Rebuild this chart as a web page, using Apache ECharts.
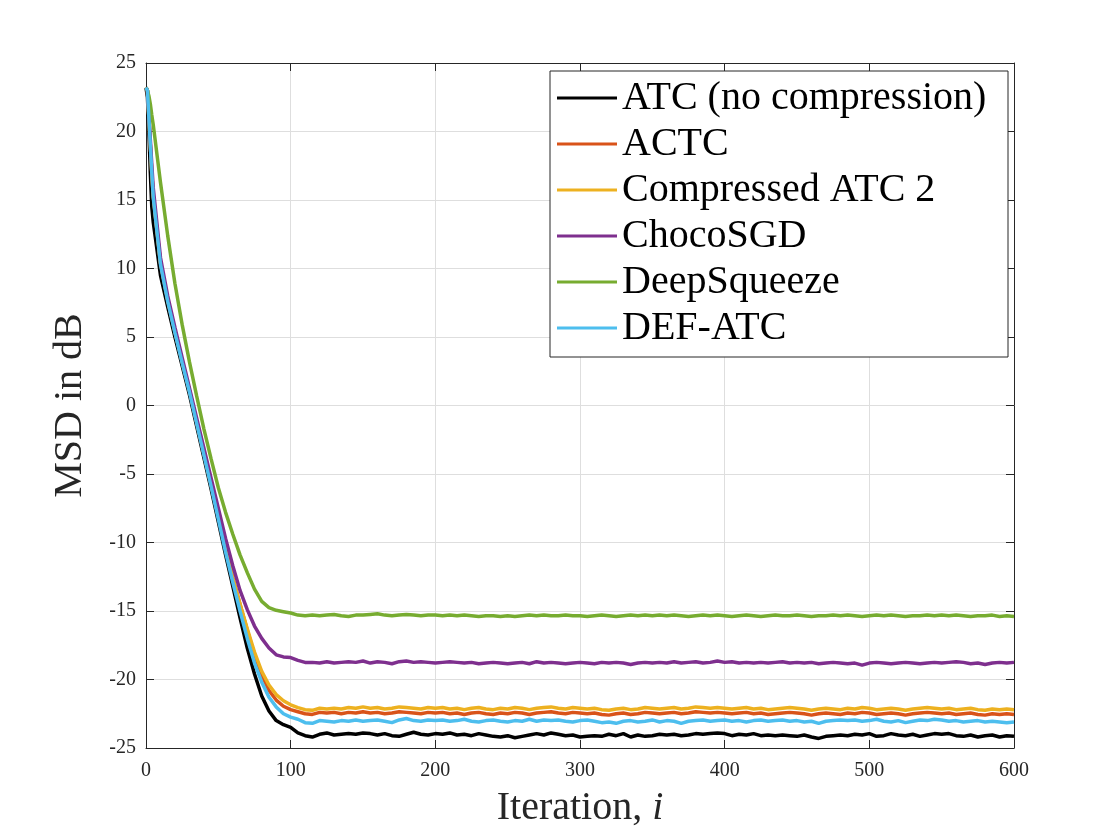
<!DOCTYPE html>
<html>
<head>
<meta charset="utf-8">
<script src="https://cdn.jsdelivr.net/npm/echarts@6/dist/echarts.min.js"></script>
<style>
html,body{margin:0;padding:0;background:#fff;}
#chart{width:1120px;height:840px;}
</style>
</head>
<body>
<div id="chart"></div>
<script>
// ---------- DATA ----------
const seriesNames = ["ATC (no compression)", "ACTC", "Compressed ATC 2", "ChocoSGD", "DeepSqueeze", "DEF-ATC"];
const xTicks = [0, 100, 200, 300, 400, 500, 600];
const yTicks = [-25, -20, -15, -10, -5, 0, 5, 10, 15, 20, 25];

const iters = [
  0, 1, 2, 3, 4, 5, 10, 15, 20, 25,
  30, 35, 40, 45, 50, 55, 60, 65, 70, 75,
  80, 85, 90, 95, 100, 105, 110, 115, 120, 125,
  130, 135, 140, 145, 150, 155, 160, 165, 170, 175,
  180, 185, 190, 195, 200, 205, 210, 215, 220, 225,
  230, 235, 240, 245, 250, 255, 260, 265, 270, 275,
  280, 285, 290, 295, 300, 305, 310, 315, 320, 325,
  330, 335, 340, 345, 350, 355, 360, 365, 370, 375,
  380, 385, 390, 395, 400, 405, 410, 415, 420, 425,
  430, 435, 440, 445, 450, 455, 460, 465, 470, 475,
  480, 485, 490, 495, 500, 505, 510, 515, 520, 525,
  530, 535, 540, 545, 550, 555, 560, 565, 570, 575,
  580, 585, 590, 595, 600
];

const atc = [
  23.2, 22.5, 20.0, 17.0, 14.5, 13.4, 9.5, 7.2, 5.0, 2.9,
  0.8, -1.5, -3.8, -6.1, -8.5, -10.9, -13.2, -15.5, -17.7, -19.6,
  -21.2, -22.3, -23.0, -23.3, -23.5, -23.9, -24.1, -24.2, -24.0, -23.9,
  -24.05, -24.0, -23.95, -24.0, -23.9, -23.95, -24.05, -23.95, -24.1, -24.15,
  -24.0, -23.85, -24.0, -24.05, -23.95, -24.0, -23.9, -24.05, -24.0, -24.1,
  -23.95, -24.05, -24.15, -24.2, -24.1, -24.25, -24.15, -24.05, -23.95, -24.05,
  -23.9, -24.0, -24.1, -24.05, -24.2, -24.15, -24.1, -24.15, -24.0, -24.1,
  -23.95, -24.2, -24.05, -24.15, -24.1, -24.0, -24.05, -24.0, -24.1, -24.05,
  -23.95, -24.0, -23.95, -23.9, -23.95, -24.1, -24.0, -24.05, -23.95, -24.1,
  -24.05, -24.1, -24.05, -24.1, -24.15, -24.05, -24.2, -24.3, -24.15, -24.1,
  -24.05, -24.1, -24.0, -24.05, -23.95, -24.15, -24.1, -23.95, -24.05, -24.1,
  -24.0, -24.15, -24.05, -23.95, -24.0, -23.95, -24.1, -24.15, -24.05, -24.2,
  -24.1, -24.05, -24.2, -24.1, -24.15
];

const actc = [
  23.2, 23.0, 21.0, 19.0, 17.0, 15.3, 10.4, 7.7, 5.4, 3.2,
  1.1, -1.2, -3.5, -5.8, -8.1, -10.4, -12.6, -14.5, -16.4, -18.2,
  -19.7, -20.8, -21.5, -21.95, -22.2, -22.35, -22.5, -22.55, -22.4, -22.45,
  -22.4, -22.5, -22.4, -22.45, -22.35, -22.45, -22.4, -22.5, -22.45, -22.35,
  -22.4, -22.45, -22.5, -22.4, -22.45, -22.4, -22.5, -22.45, -22.55, -22.45,
  -22.4, -22.5, -22.55, -22.45, -22.5, -22.4, -22.45, -22.55, -22.45, -22.4,
  -22.35, -22.45, -22.5, -22.4, -22.45, -22.5, -22.45, -22.55, -22.6, -22.5,
  -22.45, -22.55, -22.5, -22.4, -22.45, -22.5, -22.45, -22.4, -22.5, -22.45,
  -22.35, -22.4, -22.45, -22.4, -22.45, -22.5, -22.45, -22.4, -22.5, -22.45,
  -22.55, -22.5, -22.45, -22.4, -22.45, -22.5, -22.6, -22.5, -22.45, -22.5,
  -22.55, -22.45, -22.5, -22.4, -22.45, -22.55, -22.5, -22.45, -22.5, -22.6,
  -22.5, -22.45, -22.4, -22.45, -22.5, -22.45, -22.55, -22.5, -22.45, -22.55,
  -22.6, -22.5, -22.55, -22.5, -22.55
];

const catc2 = [
  23.2, 23.0, 21.0, 19.0, 17.0, 15.3, 10.4, 7.7, 5.4, 3.2,
  1.1, -1.2, -3.5, -5.8, -8.1, -10.4, -12.6, -14.5, -16.3, -18.0,
  -19.4, -20.4, -21.1, -21.55, -21.85, -22.05, -22.2, -22.25, -22.1, -22.15,
  -22.1, -22.15, -22.05, -22.1, -22.0, -22.1, -22.05, -22.15, -22.1, -22.0,
  -22.05, -22.1, -22.15, -22.05, -22.1, -22.05, -22.15, -22.1, -22.2, -22.1,
  -22.05, -22.15, -22.2, -22.1, -22.15, -22.05, -22.1, -22.2, -22.1, -22.05,
  -22.0, -22.1, -22.15, -22.05, -22.1, -22.15, -22.1, -22.2, -22.25, -22.15,
  -22.1, -22.2, -22.15, -22.05, -22.1, -22.15, -22.1, -22.05, -22.15, -22.1,
  -22.0, -22.05, -22.1, -22.05, -22.1, -22.15, -22.1, -22.05, -22.15, -22.1,
  -22.2, -22.15, -22.1, -22.05, -22.1, -22.15, -22.25, -22.15, -22.1, -22.15,
  -22.2, -22.1, -22.15, -22.05, -22.1, -22.2, -22.15, -22.1, -22.15, -22.25,
  -22.15, -22.1, -22.05, -22.1, -22.15, -22.1, -22.2, -22.15, -22.1, -22.2,
  -22.25, -22.15, -22.2, -22.15, -22.2
];

const choco = [
  23.2, 23.0, 21.2, 19.4, 17.6, 15.9, 10.8, 8.0, 5.7, 3.5,
  1.3, -0.9, -3.1, -5.3, -7.5, -9.7, -11.7, -13.5, -14.9, -16.1,
  -17.0, -17.7, -18.2, -18.35, -18.4, -18.6, -18.75, -18.75, -18.8, -18.7,
  -18.8, -18.75, -18.7, -18.75, -18.65, -18.8, -18.7, -18.75, -18.85, -18.7,
  -18.65, -18.75, -18.7, -18.75, -18.8, -18.75, -18.7, -18.75, -18.8, -18.75,
  -18.85, -18.8, -18.75, -18.8, -18.85, -18.8, -18.75, -18.85, -18.7, -18.8,
  -18.75, -18.8, -18.85, -18.8, -18.75, -18.8, -18.85, -18.75, -18.8, -18.75,
  -18.8, -18.9, -18.8, -18.75, -18.8, -18.75, -18.8, -18.7, -18.8, -18.75,
  -18.7, -18.8, -18.75, -18.65, -18.75, -18.7, -18.8, -18.75, -18.8, -18.75,
  -18.8, -18.75, -18.7, -18.8, -18.75, -18.8, -18.75, -18.85, -18.8, -18.75,
  -18.8, -18.85, -18.8, -18.95, -18.8, -18.75, -18.8, -18.85, -18.8, -18.75,
  -18.8, -18.85, -18.8, -18.75, -18.8, -18.75, -18.7, -18.75, -18.85, -18.8,
  -18.9, -18.8, -18.75, -18.8, -18.75
];

const deepSqueeze = [
  23.2, 23.0, 22.6, 22.0, 21.2, 20.5, 16.3, 12.4, 8.9, 5.9,
  3.2, 0.7, -1.7, -3.9, -6.0, -7.8, -9.4, -10.9, -12.2, -13.4,
  -14.3, -14.75, -14.95, -15.05, -15.15, -15.3, -15.35, -15.3, -15.35, -15.3,
  -15.25, -15.35, -15.4, -15.3, -15.3, -15.25, -15.2, -15.3, -15.35, -15.3,
  -15.25, -15.3, -15.35, -15.3, -15.3, -15.35, -15.3, -15.35, -15.3, -15.35,
  -15.4, -15.35, -15.35, -15.4, -15.35, -15.4, -15.35, -15.3, -15.35, -15.3,
  -15.35, -15.35, -15.3, -15.35, -15.35, -15.4, -15.35, -15.3, -15.35, -15.4,
  -15.35, -15.3, -15.35, -15.3, -15.35, -15.3, -15.35, -15.3, -15.35, -15.4,
  -15.35, -15.3, -15.35, -15.3, -15.35, -15.4, -15.35, -15.3, -15.35, -15.4,
  -15.35, -15.3, -15.35, -15.35, -15.3, -15.35, -15.4, -15.35, -15.35, -15.3,
  -15.35, -15.3, -15.35, -15.4, -15.35, -15.3, -15.35, -15.3, -15.35, -15.4,
  -15.35, -15.35, -15.3, -15.35, -15.3, -15.35, -15.3, -15.35, -15.4, -15.35,
  -15.35, -15.3, -15.4, -15.35, -15.4
];

const defAtc = [
  23.2, 23.0, 21.0, 19.0, 17.0, 15.2, 10.3, 7.6, 5.3, 3.1,
  1.0, -1.3, -3.6, -5.9, -8.3, -10.7, -12.9, -15.0, -17.0, -18.8,
  -20.2, -21.3, -22.0, -22.5, -22.75, -22.9, -23.15, -23.2, -23.0, -23.05,
  -23.1, -23.0, -23.05, -22.95, -23.05, -23.0, -22.95, -23.05, -23.15, -22.95,
  -22.85, -23.0, -23.05, -22.95, -23.0, -22.95, -23.05, -23.0, -22.9, -23.05,
  -23.1, -23.0, -22.95, -23.05, -23.1, -23.0, -23.05, -22.9, -23.05, -22.95,
  -23.0, -22.95, -23.05, -23.1, -23.0, -22.95, -23.05, -23.15, -23.1, -23.2,
  -23.05, -23.0, -23.1, -23.05, -22.95, -23.1, -23.0, -23.05, -23.2, -23.05,
  -23.0, -22.95, -23.05, -23.0, -22.95, -23.05, -23.0, -23.1, -23.0, -22.95,
  -23.05, -23.0, -22.95, -23.05, -23.0, -23.1, -23.05, -23.2, -23.05, -23.0,
  -22.95, -23.0, -22.95, -23.05, -23.0, -22.9, -23.05, -23.1, -23.0, -23.15,
  -23.05, -22.95, -23.0, -22.9, -22.95, -23.05, -23.0, -23.1, -23.05, -23.0,
  -23.1, -23.05, -23.1, -23.15, -23.1
];

const seriesValues = [atc, actc, catc2, choco, deepSqueeze, defAtc];
const seriesColors = ["#000000", "#D95319", "#EDB120", "#7E2F8E", "#77AC30", "#4DBEEE"];

// ---------- CHART ----------
const FONT = "'Liberation Serif', 'DejaVu Serif', serif";
const AX = "#262626";
const chart = echarts.init(document.getElementById('chart'), null, {renderer: 'canvas'});

function pairs(vals) { return iters.map((x, k) => [x, vals[k]]); }

const baseAxis = {
  type: 'value',
  axisLine: {show: true, onZero: false, lineStyle: {color: AX, width: 1}},
  axisTick: {show: true, inside: true, length: 8, lineStyle: {color: AX, width: 1}},
};

const option = {
  backgroundColor: '#ffffff',
  animation: false,
  grid: {left: 146, right: 106, top: 63, bottom: 92, containLabel: false},
  xAxis: [
    Object.assign({}, baseAxis, {
      position: 'bottom', min: xTicks[0], max: xTicks[xTicks.length - 1], interval: 100,
      axisLabel: {color: AX, fontFamily: FONT, fontSize: 20, margin: 13},
      splitLine: {show: true, lineStyle: {color: '#dedede', width: 1}},
      name: '{r|Iteration, }{it|i}', nameLocation: 'middle', nameGap: 40,
      nameTextStyle: {
        color: AX, fontFamily: FONT, fontSize: 40,
        rich: {
          r: {fontFamily: FONT, fontSize: 40, color: AX},
          it: {fontFamily: FONT, fontSize: 40, fontStyle: 'italic', color: AX}
        }
      }
    }),
    Object.assign({}, baseAxis, {
      position: 'top', min: xTicks[0], max: xTicks[xTicks.length - 1], interval: 100,
      axisLabel: {show: false}, splitLine: {show: false}
    })
  ],
  yAxis: [
    Object.assign({}, baseAxis, {
      position: 'left', min: yTicks[0], max: yTicks[yTicks.length - 1], interval: 5,
      axisLabel: {color: AX, fontFamily: FONT, fontSize: 20, margin: 10},
      splitLine: {show: true, lineStyle: {color: '#dedede', width: 1}},
      name: 'MSD in dB', nameLocation: 'middle', nameGap: 56,
      nameTextStyle: {color: AX, fontFamily: FONT, fontSize: 40}
    }),
    Object.assign({}, baseAxis, {
      position: 'right', min: yTicks[0], max: yTicks[yTicks.length - 1], interval: 5,
      axisLabel: {show: false}, splitLine: {show: false}
    })
  ],
  graphic: [{
    type: 'rect', z: 5,
    shape: {x: 550, y: 71, width: 458, height: 286},
    style: {fill: '#ffffff', stroke: AX, lineWidth: 1}
  }],
  legend: {
    z: 10,
    orient: 'vertical', left: 552, top: 73, padding: 5,
    itemWidth: 60, itemHeight: 3, itemGap: 6, itemTextGap: 9,
    icon: 'rect',
    textStyle: {color: '#000', fontFamily: FONT, fontSize: 40, lineHeight: 40},
    data: seriesNames
  },
  series: seriesNames.map((name, k) => ({
    name: name, type: 'line', xAxisIndex: 0, yAxisIndex: 0,
    data: pairs(seriesValues[k]),
    showSymbol: false, symbol: 'none',
    lineStyle: {color: seriesColors[k], width: 3.5},
    itemStyle: {color: seriesColors[k]},
    emphasis: {disabled: true}
  }))
};
chart.setOption(option);
</script>
</body>
</html>
